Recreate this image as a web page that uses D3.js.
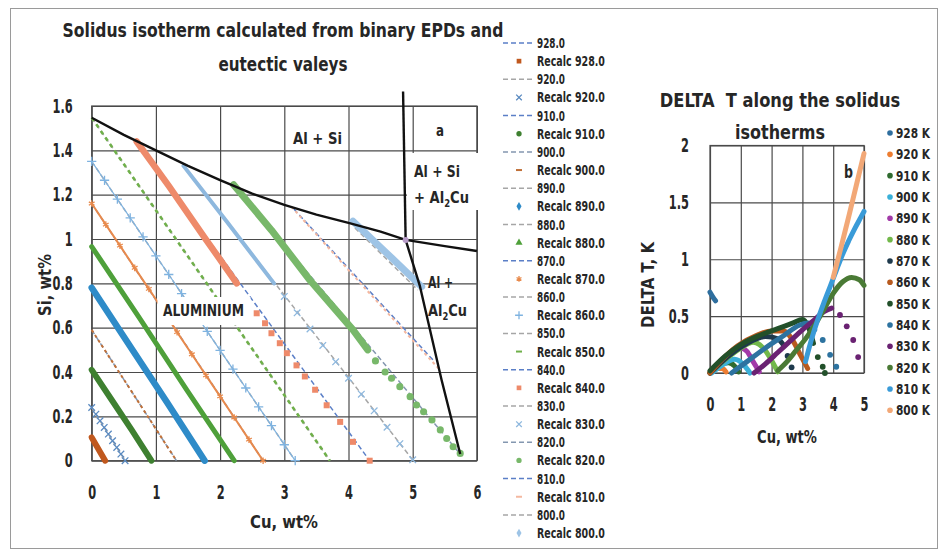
<!DOCTYPE html>
<html>
<head>
<meta charset="utf-8">
<script src="https://cdn.jsdelivr.net/npm/d3@7"></script>
<style>
  body { margin: 0; background: #fff; }
  text { font-family: "DejaVu Sans", "Liberation Sans", sans-serif; font-weight: bold; fill: #262626; }
</style>
</head>
<body>
<div id="chart"></div>
<script>
// ---------- data ----------
const temps = [928, 920, 910, 900, 890, 880, 870, 860, 850, 840, 830, 820, 810, 800];

// theoretical isotherms (dashed): start / end [Cu, Si]
const isoStart = [[0,0.1],[0,0.24],[0,0.41],[0,0.59],[0,0.78],[0,0.966],[0,1.16],[0,1.35],[0,1.547],[0.7,1.44],[1.43,1.33],[2.21,1.245],[3.15,1.135],[4.1,1.05]];
const isoEnd = [[0.21,0],[0.52,0],[0.93,0],[1.32,0],[1.76,0],[2.22,0],[2.67,0],[3.17,0],[3.71,0],[4.33,0],[5.01,0],[5.74,0.03],[5.33,0.45],[5.08,0.77]];
const isoColor = ["#5B7FC7","#A6A6A6","#5B7FC7","#8497B0","#A6A6A6","#A6A6A6","#5B7FC7","#A6A6A6","#A6A6A6","#5B7FC7","#A6A6A6","#8497B0","#5B7FC7","#A6A6A6"];

// recalculated isotherms [Cu, Si]
const recalc928 = [[0,0.105],[0.07,0.07],[0.14,0.035],[0.21,0]];
const recalc920 = [[0,0.24],[0.065,0.21],[0.13,0.18],[0.195,0.15],[0.26,0.12],[0.325,0.09],[0.39,0.06],[0.455,0.03],[0.52,0]];
const recalc910 = [[0,0.41],[0.31,0.275],[0.62,0.14],[0.93,0]];
const recalc900 = [[0,0.59],[0.66,0.295],[1.32,0]];
const recalc890 = [[0,0.78],[0.59,0.52],[1.18,0.26],[1.76,0]];
const recalc880 = [[0,0.966],[0.74,0.645],[1.48,0.32],[2.22,0]];
const recalc870 = [[0,1.16],[0.22,1.065],[0.44,0.97],[0.67,0.87],[0.89,0.775],[1.11,0.68],[1.33,0.58],[1.56,0.48],[1.78,0.385],[2.0,0.29],[2.22,0.195],[2.45,0.095],[2.67,0]];
const recalc860 = [[0,1.35],[0.2,1.265],[0.4,1.18],[0.6,1.095],[0.8,1.01],[1.0,0.924],[1.2,0.84],[1.4,0.754],[1.6,0.669],[1.8,0.583],[2.0,0.498],[2.2,0.413],[2.4,0.328],[2.6,0.243],[2.8,0.158],[3.0,0.072],[3.17,0]];
const recalc850 = [[0,1.547],[1.85,0.775],[3.71,0]];
const recalc840 = [[0.7,1.44],[1.2,1.24],[1.75,1.01],[2.26,0.8],[2.57,0.665],[2.7,0.62],[2.8,0.575],[2.93,0.53],[3.04,0.485],[3.19,0.43],[3.32,0.38],[3.48,0.32],[3.66,0.25],[3.87,0.175],[4.07,0.085],[4.33,0]];
const recalc830 = [[1.43,1.33],[2.1,1.08],[2.84,0.8],[3.0,0.741],[3.2,0.667],[3.4,0.594],[3.6,0.52],[3.8,0.446],[4.0,0.372],[4.2,0.3],[4.4,0.225],[4.6,0.151],[4.8,0.077],[5.0,0.004]];
const recalc820 = [[2.21,1.245],[2.8,1.04],[3.4,0.814],[4.07,0.59],[4.3,0.5],[4.42,0.45],[4.57,0.4],[4.67,0.372],[4.8,0.334],[4.96,0.289],[5.06,0.251],[5.17,0.221],[5.3,0.184],[5.43,0.139],[5.53,0.1],[5.63,0.063],[5.74,0.033]];
const recalc810 = [[3.11,1.146],[4.25,0.78],[5.4,0.417]];
const recalc800 = [[4.07,1.08],[4.6,0.935],[5.14,0.785]];
const recalcShape = ["square","x","circle","dash","diamond","triangle","star","plus","dash","square","x","circle","dash","diamond"];
const recalcColor = ["#C0581E","#5A8AC0","#3E8030","#C07038","#2E8BC8","#4EA03A","#E88A4C","#7FB3E0","#6FB04A","#EE8A6A","#8EB8DE","#78B86A","#F4B8A0","#9EC4E6"];
const recalcBand = [6, 0, 6, 0, 6.5, 5, 2, 1.2, 0, 6.5, 4, 7, 0, 7];
const recalcDense = [4, 0, 4, 0, 4, 4, 13, 17, 0, 4, 3, 5, 0, 3];

// boundaries of the phase fields [Cu, Si]
const valleyAlSi = [[0,1.547],[0.5,1.47],[1,1.4],[1.5,1.33],[2,1.266],[2.5,1.205],[3,1.154],[3.5,1.11],[4,1.073],[4.5,1.033],[4.89,0.996],[5.5,0.968],[6,0.946]];
const valleyAlCu = [[4.85,1.665],[4.89,0.996]];
const valleyAl2Cu = [[4.89,0.996],[5.11,0.79],[5.45,0.364],[5.74,0.03]];
const eutectic = [[4.89,0.996]];

// DELTA T along the isotherms [Cu, dT]
const delta928 = [[0,0.71],[0.09,0.67],[0.18,0.635]];
const delta920 = [[0,0.01],[0.2,0.04],[0.4,0.04],[0.52,0.01]];
const delta910 = [[0,0],[0.3,0.07],[0.6,0.09],[0.8,0.06],[0.93,0.01]];
const delta900 = [[0.05,0],[0.4,0.07],[0.8,0.12],[1.1,0.07],[1.3,0]];
const delta890 = [[0,0],[0.4,0.1],[0.8,0.19],[1.0,0.22],[1.2,0.19],[1.4,0.1],[1.6,0.01]];
const delta880 = [[0,0],[0.5,0.12],[1.0,0.22],[1.4,0.27],[1.79,0.2],[2.0,0.11],[2.2,0.01]];
const delta870 = [[0,0],[0.6,0.15],[1.2,0.26],[1.8,0.32],[2.2,0.3],[2.4,0.24],[2.52,0.15],[2.65,0.05]];
const delta860 = [[0,0],[0.4,0.12],[0.9,0.24],[1.5,0.33],[2.0,0.37],[2.4,0.37],[2.7,0.28],[2.95,0.15],[3.17,0.04]];
const delta850 = [[0,0.02],[0.5,0.15],[1.0,0.25],[1.6,0.33],[2.2,0.39],[2.7,0.44],[3.0,0.47],[3.2,0.4],[3.36,0.26],[3.5,0.14],[3.66,0.055],[3.73,0]];
const delta840 = [[0.7,0],[1.2,0.1],[1.8,0.22],[2.4,0.33],[2.9,0.42],[3.2,0.44],[3.4,0.38],[3.66,0.29],[3.9,0.16],[4.1,0.055]];
const delta830 = [[1.43,0],[1.8,0.08],[2.2,0.18],[2.6,0.28],[3.0,0.38],[3.4,0.47],[3.7,0.54],[3.95,0.57],[4.22,0.51],[4.44,0.41],[4.65,0.29],[4.81,0.14]];
const delta820 = [[2.2,0.02],[2.5,0.1],[2.8,0.2],[3.1,0.3],[3.4,0.42],[3.7,0.56],[4.0,0.7],[4.3,0.8],[4.6,0.84],[4.85,0.82],[5.0,0.77]];
const delta810 = [[3.1,0.1],[3.3,0.3],[3.5,0.47],[3.7,0.62],[3.9,0.76],[4.1,0.9],[4.3,1.04],[4.5,1.16],[4.7,1.27],[4.9,1.37],[5.0,1.42]];
const delta800 = [[4.0,0.84],[4.25,1.1],[4.5,1.37],[4.75,1.65],[5.0,1.93]];
const deltaDense = [3, 4, 5, 5, 7, 7, 6, 9, 9, 7, 8, 11, 11, 5];
const deltaColor = ["#2E6E9E","#ED7D31","#2F6B2F","#3AB0D8","#A23AA8","#72B84A","#1E3A4C","#B85A1E","#22502A","#2D73A0","#6A2272","#4A7A35","#3A9BD8","#F2A877"];

const xTicksL = [0, 1, 2, 3, 4, 5, 6];
const yTicksL = [0, 0.2, 0.4, 0.6, 0.8, 1, 1.2, 1.4, 1.6];
const xTicksR = [0, 1, 2, 3, 4, 5];
const yTicksR = [0, 0.5, 1, 1.5, 2];

const recalcData = [recalc928, recalc920, recalc910, recalc900, recalc890, recalc880, recalc870, recalc860, recalc850, recalc840, recalc830, recalc820, recalc810, recalc800];
const deltaData = [delta928, delta920, delta910, delta900, delta890, delta880, delta870, delta860, delta850, delta840, delta830, delta820, delta810, delta800];

// ---------- setup ----------
const svg = d3.select("#chart").append("svg").attr("width", 946).attr("height", 557);

svg.append("rect").attr("x", 10.5).attr("y", 8.5).attr("width", 927).attr("height", 540)
  .attr("fill", "none").attr("stroke", "#9a9a9a");

const xL = d3.scaleLinear().domain([0, 6]).range([91.7, 476.9]);
const yL = d3.scaleLinear().domain([0, 1.6]).range([460.7, 106]);
const xR = d3.scaleLinear().domain([0, 5]).range([710, 864]);
const yR = d3.scaleLinear().domain([0, 2]).range([373, 145.5]);

const gridColor = "#4a4a4a";

// writes a text and narrows it with a horizontal scale to the given width
function ctext(parent, x, y, str, size, width, opts = {}) {
  const t = parent.append("text").attr("x", 0).attr("y", 0).attr("font-size", size);
  if (opts.anchor) t.attr("text-anchor", opts.anchor);
  if (opts.fill) t.attr("fill", opts.fill);
  if (Array.isArray(str)) {
    t.append("tspan").text(str[0]);
    t.append("tspan").text("2").attr("font-size", size * 0.65).attr("dy", 4);
    t.append("tspan").text(str[1]).attr("dy", -4);
  } else t.text(str);
  const k = width ? width / t.node().getComputedTextLength() : 1;
  t.attr("transform", `translate(${x},${y})${opts.rot ? ` rotate(${opts.rot})` : ""} scale(${k},1)`);
  return t;
}

function grid(g, x, y, xt, yt) {
  const [y0, y1] = y.range();
  const [x0, x1] = x.range();
  g.append("g").attr("transform", `translate(0,${y0})`)
    .call(d3.axisBottom(x).tickValues(xt).tickSize(y1 - y0).tickFormat(""))
    .call(s => s.select(".domain").remove())
    .selectAll("line").attr("stroke", gridColor).attr("stroke-width", 1.2);
  g.append("g").attr("transform", `translate(${x0},0)`)
    .call(d3.axisLeft(y).tickValues(yt).tickSize(x0 - x1).tickFormat(""))
    .call(s => s.select(".domain").remove())
    .selectAll("line").attr("stroke", gridColor).attr("stroke-width", 1.2);
}

function tickLabels(g, x, y, xt, yt, padX, padY) {
  const k = 0.6;
  const ax = g.append("g").attr("transform", `translate(0,${y.range()[0]})`)
    .call(d3.axisBottom(x).tickValues(xt).tickSize(0).tickPadding(padX).tickFormat(d3.format("~g")));
  const ay = g.append("g").attr("transform", `translate(${x.range()[0]},0)`)
    .call(d3.axisLeft(y).tickValues(yt).tickSize(0).tickPadding(padY).tickFormat(d3.format("~g")));
  [ax, ay].forEach(a => {
    a.attr("font-family", null).attr("font-size", null);
    a.select(".domain").remove();
    a.selectAll("text").attr("font-size", 19).attr("fill", "#262626");
  });
  ax.selectAll("text").attr("transform", `scale(${k},1)`);
  ay.selectAll("text").attr("x", -padY / k).attr("transform", `scale(${k},1)`);
}

const symTypes = {
  square: d3.symbolSquare, circle: d3.symbolCircle, diamond: d3.symbolDiamond,
  triangle: d3.symbolTriangle, x: d3.symbolTimes, plus: d3.symbolPlus, star: d3.symbolAsterisk
};
const strokeSyms = ["x", "plus", "star"];

function drawMarker(g, shape, color, cx, cy, size) {
  if (shape === "dash") {
    g.append("line").attr("x1", cx - 3).attr("x2", cx + 3).attr("y1", cy).attr("y2", cy)
      .attr("stroke", color).attr("stroke-width", 2);
    return;
  }
  const p = g.append("path").attr("d", d3.symbol().type(symTypes[shape]).size(size)())
    .attr("transform", `translate(${cx},${cy})`);
  if (strokeSyms.includes(shape)) p.attr("fill", "none").attr("stroke", color).attr("stroke-width", 1.3);
  else p.attr("fill", color);
}

// ---------- left chart ----------
const gL = svg.append("g");
grid(gL, xL, yL, xTicksL, yTicksL);
gL.append("rect").attr("x", xL(0)).attr("y", yL(1.6)).attr("width", xL(6) - xL(0)).attr("height", yL(0) - yL(1.6))
  .attr("fill", "none").attr("stroke", gridColor).attr("stroke-width", 1.2);

const lineL = d3.line().x(d => xL(d[0])).y(d => yL(d[1]));

// theoretical isotherms
temps.forEach((t, i) => {
  gL.append("path").attr("d", lineL([isoStart[i], isoEnd[i]]))
    .attr("fill", "none").attr("stroke", isoColor[i]).attr("stroke-width", 1.5).attr("stroke-dasharray", "5,3");
});

// recalculated isotherms
temps.forEach((t, i) => {
  const pts = recalcData[i];
  const col = recalcColor[i];
  const shape = recalcShape[i];
  if (shape === "dash") {
    gL.append("path").attr("d", lineL(pts)).attr("fill", "none").attr("stroke", col)
      .attr("stroke-width", i === 8 ? 2.6 : 2).attr("stroke-dasharray", i === 8 ? "4,4" : "3,3");
    return;
  }
  const band = recalcBand[i];
  const dense = recalcDense[i];
  if (band > 0 && dense > 1) {
    gL.append("path").attr("d", lineL(pts.slice(0, dense))).attr("fill", "none").attr("stroke", col)
      .attr("stroke-width", band).attr("stroke-linecap", "round").attr("stroke-linejoin", "round");
  }
  const markPts = band >= 4 ? pts.slice(dense) : pts;
  const size = shape === "circle" ? 40 : shape === "square" ? 36 : 30;
  markPts.forEach(d => drawMarker(gL, shape, col, xL(d[0]), yL(d[1]), size));
});

// phase field labels
const labels = gL.append("g");
labels.append("rect").attr("x", 407).attr("y", 153).attr("width", 73).attr("height", 57).attr("fill", "#fff");
labels.append("rect").attr("x", 157.5).attr("y", 297).attr("width", 93).attr("height", 28).attr("fill", "#fff");
ctext(labels, 293, 144, "Al + Si", 16, 49);
ctext(labels, 436, 136, "a", 16, 8);
ctext(labels, 414, 177, "Al + Si", 16, 46);
ctext(labels, 414, 203, ["+ Al", "Cu"], 16, 55);
ctext(labels, 163, 316, "ALUMINIUM", 16, 81);
ctext(labels, 428, 288, "Al +", 16, 25);
ctext(labels, 428, 316, ["Al", "Cu"], 16, 39);

// phase boundaries
[valleyAlSi, valleyAlCu, valleyAl2Cu].forEach(v => {
  gL.append("path").attr("d", lineL(v)).attr("fill", "none").attr("stroke", "#111").attr("stroke-width", 2.4);
});
gL.selectAll(".eut").data(eutectic).enter().append("circle").attr("class", "eut")
  .attr("cx", d => xL(d[0])).attr("cy", d => yL(d[1])).attr("r", 3).attr("fill", "#B79BC8");

tickLabels(gL, xL, yL, xTicksL, yTicksL, 25, 19);

ctext(svg, 283, 37, "Solidus isotherm calculated from binary EPDs and", 20, 441, { anchor: "middle" });
ctext(svg, 283, 71, "eutectic valeys", 20, 129, { anchor: "middle" });
ctext(svg, 284, 528, "Cu, wt%", 18, 68, { anchor: "middle" });
ctext(svg, 51, 285, "Si, wt%", 18, 62, { anchor: "middle", rot: -90 });

// left legend
const legL = svg.append("g");
temps.forEach((t, i) => {
  const yA = 43 + (2 * i) * 18.15;
  const yB = 43 + (2 * i + 1) * 18.15;
  legL.append("line").attr("x1", 503).attr("x2", 535).attr("y1", yA).attr("y2", yA)
    .attr("stroke", isoColor[i]).attr("stroke-width", 1.5).attr("stroke-dasharray", "5,3");
  ctext(legL, 537, yA + 5, t.toFixed(1), 14, 28, { fill: "#3a3a3a" });
  drawMarker(legL, recalcShape[i], recalcColor[i], 519, yB, 22);
  ctext(legL, 537, yB + 5, "Recalc " + t.toFixed(1), 14, 68, { fill: "#3a3a3a" });
});

// ---------- right chart ----------
const gR = svg.append("g");
grid(gR, xR, yR, xTicksR, yTicksR);
gR.append("rect").attr("x", xR(0)).attr("y", yR(2)).attr("width", xR(5) - xR(0)).attr("height", yR(0) - yR(2))
  .attr("fill", "none").attr("stroke", gridColor).attr("stroke-width", 1.2);

const lineR = d3.line().x(d => xR(d[0])).y(d => yR(d[1])).curve(d3.curveMonotoneX);
temps.forEach((t, i) => {
  const pts = deltaData[i];
  const dense = deltaDense[i];
  gR.append("path").attr("d", lineR(pts.slice(0, dense))).attr("fill", "none").attr("stroke", deltaColor[i])
    .attr("stroke-width", 5).attr("stroke-linecap", "round").attr("stroke-linejoin", "round");
  pts.slice(dense).forEach(d => {
    gR.append("circle").attr("cx", xR(d[0])).attr("cy", yR(d[1])).attr("r", 2.9).attr("fill", deltaColor[i]);
  });
});

ctext(gR, 844, 178, "b", 17, 9);
tickLabels(gR, xR, yR, xTicksR, yTicksR, 25, 21);

ctext(svg, 780, 107, "DELTA  T along the solidus", 20, 235, { anchor: "middle" }).style("white-space", "pre");
ctext(svg, 780, 139, "isotherms", 20, 90, { anchor: "middle" });
ctext(svg, 787, 443, "Cu, wt%", 18, 60, { anchor: "middle" });
ctext(svg, 654, 285, "DELTA T, K", 18, 86, { anchor: "middle", rot: -90 });

// right legend
const legR = svg.append("g");
temps.forEach((t, i) => {
  const y = 133 + i * 21.33;
  legR.append("circle").attr("cx", 890).attr("cy", y).attr("r", 2.8).attr("fill", deltaColor[i]);
  ctext(legR, 896, y + 5, t + " K", 14, 34, { fill: "#3a3a3a" });
});
</script>
</body>
</html>
